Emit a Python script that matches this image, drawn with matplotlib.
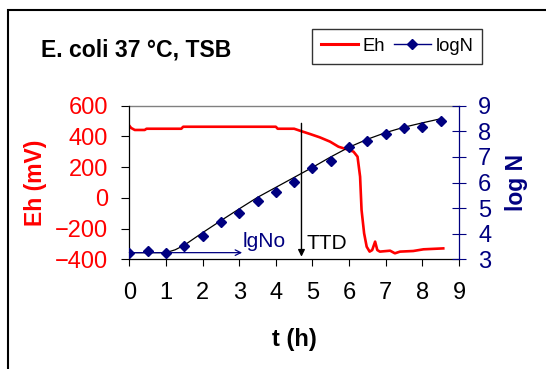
"""Eh and growth curve of E. coli at 37 °C in TSB."""

import matplotlib

matplotlib.use("Agg")
import matplotlib.pyplot as plt
from matplotlib.lines import Line2D
from matplotlib.patches import Rectangle

plt.rcParams["font.family"] = ["Liberation Sans", "DejaVu Sans"]

RED = "#ff0000"
NAVY = "#000080"

# redox potential (mV) over time (h)
eh_time = [0.0, 0.05, 0.15, 0.42, 0.47, 1.42, 1.47, 4.0, 4.05, 4.5, 4.66, 4.93,
           5.2, 5.48, 5.71, 5.94, 6.12, 6.23, 6.3, 6.34, 6.41, 6.48, 6.56, 6.63,
           6.71, 6.77, 6.84, 7.12, 7.25, 7.39, 7.75, 8.03, 8.57]
eh_values = [470, 455, 442, 442, 450, 450, 463, 463, 450, 450, 437, 416,
             394, 366, 333, 316, 301, 268, 138, -79, -231, -318, -350, -340,
             -285, -340, -350, -344, -361, -350, -346, -335, -329]

# measured counts (log N)
count_time = [0.0, 0.5, 1.0, 1.5, 2.0, 2.5, 3.0, 3.5, 4.0, 4.5, 5.0, 5.5,
              6.0, 6.5, 7.0, 7.5, 8.0, 8.5]
count_logn = [3.23, 3.33, 3.26, 3.52, 3.92, 4.47, 4.82, 5.29, 5.63, 6.03, 6.55,
              6.85, 7.40, 7.63, 7.89, 8.12, 8.16, 8.41]

# fitted growth curve
fit_time = [0.0, 1.0, 1.25, 1.5, 2.0, 2.5, 3.0, 3.5, 4.0, 4.5, 5.0, 5.5, 6.0,
            6.5, 7.0, 7.5, 8.0, 8.5]
fit_logn = [3.26, 3.26, 3.37, 3.55, 4.04, 4.51, 4.97, 5.42, 5.81, 6.2, 6.59,
            7.0, 7.38, 7.69, 7.95, 8.16, 8.33, 8.49]

x_ticks = list(range(0, 10))
eh_ticks = [-400, -200, 0, 200, 400, 600]
logn_ticks = [3, 4, 5, 6, 7, 8, 9]

lgno_level = 3.26
lgno_end = 3.08
ttd_time = 4.7

fig = plt.figure(figsize=(5.46, 3.69), dpi=100)
ax = fig.add_axes([129.3 / 546, 1 - 259.3 / 369, 329.7 / 546, 153.6 / 369])
ax2 = ax.twinx()

# outer chart frame (cut off on the right and bottom)
fig.patches.append(Rectangle((8 / 546, -0.1), 1.2, 1.1 - 10 / 369,
                             transform=fig.transFigure, fill=False,
                             edgecolor="black", linewidth=1.5))

ax.plot(eh_time, eh_values, color=RED, linewidth=1.9)
ax.axhline(600, color="#808080", linewidth=1, clip_on=False)

ax2.plot(fit_time, fit_logn, color="black", linewidth=0.9)
ax2.plot(count_time, count_logn, linestyle="none", marker="D",
         markersize=5.2, color=NAVY)

ax.set_xlim(0, 9)
ax.set_ylim(-400, 600)
ax2.set_ylim(3, 9)
ax.set_xticks(x_ticks)
ax.set_yticks(eh_ticks)
ax2.set_yticks(logn_ticks)

for side in ["top", "right"]:
    ax.spines[side].set_visible(False)
for side in ["top", "left", "bottom"]:
    ax2.spines[side].set_visible(False)
ax.spines["left"].set_linewidth(0.9)
ax.spines["bottom"].set_linewidth(0.9)
ax2.spines["right"].set_color(NAVY)
ax2.spines["right"].set_linewidth(0.9)

ax.tick_params(axis="x", direction="out", length=5.2, width=0.8, pad=11,
               labelsize=17, colors="black")
ax.tick_params(axis="y", direction="out", length=5.5, width=0.8, pad=9.9,
               labelsize=17, colors="black", labelcolor=RED)
ax2.tick_params(axis="y", direction="inout", length=9.4, width=0.8, pad=9,
                labelsize=17, colors=NAVY)

ax.set_xlabel("t (h)", fontsize=17, fontweight="bold", va="center")
ax.xaxis.set_label_coords(0.5, -0.52)
ax.set_ylabel("Eh (mV)", fontsize=16.5, fontweight="bold", color=RED,
              va="center")
ax.yaxis.set_label_coords(-0.283, 0.5)
ax2.set_ylabel("log N", fontsize=16.5, fontweight="bold", color=NAVY,
               va="center", rotation=90)
ax2.yaxis.set_label_coords(1.175, 0.5)

# lag / detection annotations
ax2.annotate("", xy=(lgno_end, lgno_level), xytext=(0, lgno_level),
             arrowprops=dict(arrowstyle="->", color=NAVY, linewidth=0.9,
                             shrinkA=0, shrinkB=0))
ax2.text(lgno_end + 0.02, lgno_level + 0.05, "lgNo", fontsize=15,
         color=NAVY, va="bottom", ha="left")
ax.annotate("", xy=(ttd_time, -383), xytext=(ttd_time, 485),
            arrowprops=dict(arrowstyle="-|>", color="black", linewidth=1,
                            mutation_scale=10, shrinkA=0, shrinkB=0))
ax.text(ttd_time + 0.15, -330, "TTD", fontsize=15, color="black",
        va="baseline", ha="left")

fig.text(41 / 546, 1 - 56 / 369, "E. coli 37 °C, TSB", fontsize=16.6,
         fontweight="bold", va="baseline", ha="left")

handles = [
    Line2D([], [], color=RED, linewidth=2.2),
    Line2D([], [], color=NAVY, linewidth=1, marker="D", markersize=5),
]
legend = fig.legend(handles, ["Eh", "logN"], loc="upper left",
                    bbox_to_anchor=(312 / 546, 1 - 28.6 / 369), ncol=2,
                    fontsize=13.2, frameon=True, fancybox=False,
                    borderaxespad=0, borderpad=0.5, handlelength=2.0,
                    handletextpad=0.25, columnspacing=0.5)
legend.get_frame().set_edgecolor("black")
legend.get_frame().set_linewidth(1)

fig.savefig("out.png", dpi=100)
plt.close(fig)
